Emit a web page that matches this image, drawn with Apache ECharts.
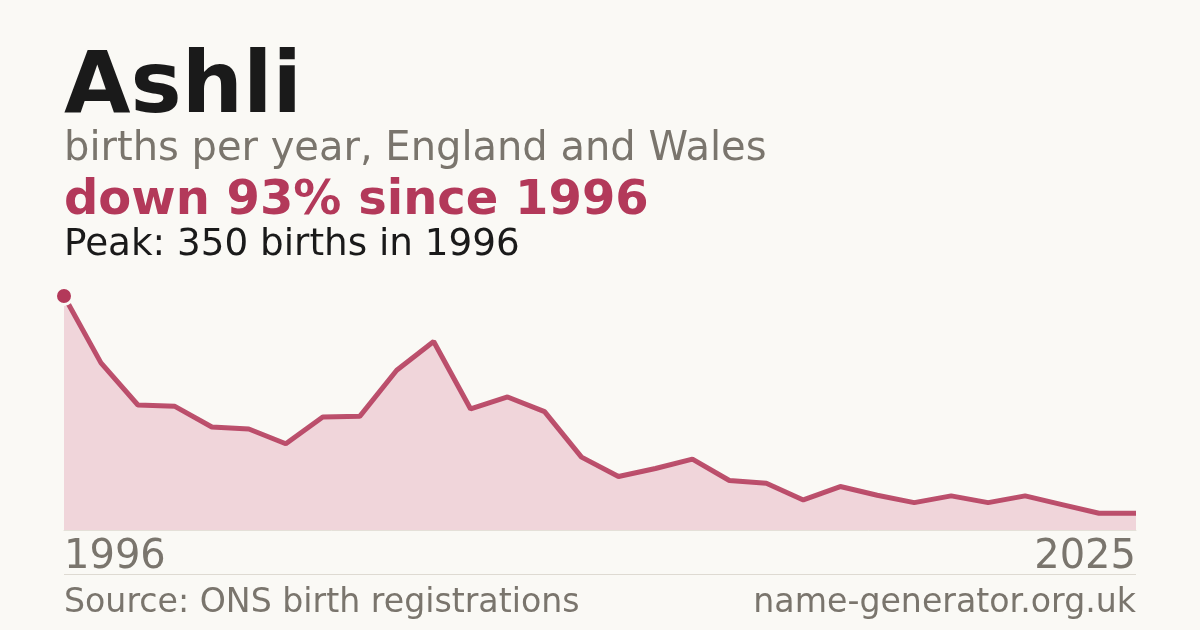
<!DOCTYPE html>
<html>
<head>
<meta charset="utf-8">
<script src="https://cdn.jsdelivr.net/npm/echarts@6/dist/echarts.min.js"></script>
<style>
html,body{margin:0;padding:0;background:#faf9f5;}
#chart{width:1200px;height:630px;}
</style>
</head>
<body>
<div id="chart"></div>
<script>
const years = ['1996','1997','1998','1999','2000','2001','2002','2003','2004','2005','2006','2007','2008','2009','2010','2011','2012','2013','2014','2015','2016','2017','2018','2019','2020','2021','2022','2023','2024','2025'];
const births = [350,250,187,185,154,151,129,169,170,239,282,181,199,177,109,80,92,106,74,70,45,65,52,41,51,41,51,38,25,25];
const tickLabels = ['1996','2025'];
const titleText = 'Ashli';
const subtitleText = 'births per year, England and Wales';
const changeText = 'down 93% since 1996';
const peakText = 'Peak: 350 births in 1996';
const sourceText = 'Source: ONS birth registrations';
const siteText = 'name-generator.org.uk';

const peakIdx = births.indexOf(Math.max(...births));
const FONT = '"DejaVu Sans", sans-serif';
const ACCENT = '#b3395a';
const GREY = '#7a756d';

const chart = echarts.init(document.getElementById('chart'), null, {renderer:'canvas'});
chart.setOption({
  backgroundColor: '#faf9f5',
  animation: false,
  grid: {left: 64, right: 64, top: 296, bottom: 100, containLabel: false},
  xAxis: {
    type: 'category',
    data: years,
    boundaryGap: false,
    axisLine: {show: true, lineStyle: {color: '#e4e0d8', width: 1}},
    axisTick: {show: false},
    splitLine: {show: false},
    axisLabel: {
      show: true,
      interval: 0,
      formatter: v => tickLabels.includes(v) ? v : '',
      color: GREY,
      fontFamily: FONT,
      fontSize: 40,
      margin: 8,
      alignMinLabel: 'left',
      alignMaxLabel: 'right'
    }
  },
  yAxis: {
    type: 'value',
    min: 0,
    max: 350,
    show: false,
    splitLine: {show: false}
  },
  series: [
    {
      type: 'line',
      data: births,
      symbol: 'none',
      lineStyle: {color: ACCENT, width: 5, opacity: 0.88},
      areaStyle: {color: '#f0d5da', opacity: 1},
      z: 2
    },
    {
      type: 'scatter',
      data: [[peakIdx, births[peakIdx]]],
      symbol: 'circle',
      symbolSize: 17,
      itemStyle: {color: ACCENT, opacity: 1, borderColor: '#faf9f5', borderWidth: 3},
      z: 3
    }
  ],
  graphic: [
    {type:'text', left:64, top:47, style:{text:titleText, font:'bold 86px ' + FONT, fill:'#1a1a1a'}},
    {type:'text', left:64, top:130, style:{text:subtitleText, font:'40px ' + FONT, fill:GREY}},
    {type:'text', left:64, top:178, style:{text:changeText, font:'bold 48px ' + FONT, fill:ACCENT}},
    {type:'text', left:64, top:227, style:{text:peakText, font:'37.3px ' + FONT, fill:'#1a1a1a'}},
    {type:'rect', shape:{x:64, y:574, width:1072, height:1}, style:{fill:'#dedad2'}},
    {type:'text', left:64, top:587, style:{text:sourceText, font:'33.2px ' + FONT, fill:GREY}},
    {type:'text', right:64, top:587, style:{text:siteText, font:'33.2px ' + FONT, fill:GREY}}
  ]
});
</script>
</body>
</html>
